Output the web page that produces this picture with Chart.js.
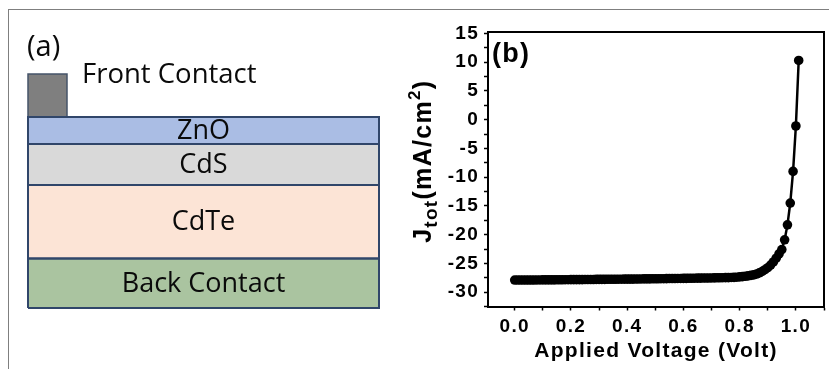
<!DOCTYPE html>
<html>
<head>
<meta charset="utf-8">
<script src="https://cdn.jsdelivr.net/npm/chart.js@4.4.1/dist/chart.umd.min.js"></script>
<style>
  html, body { margin: 0; padding: 0; background: #fff; }
  #wrap { position: relative; width: 829px; height: 369px; overflow: hidden; }
  #frame { position: absolute; left: 8px; top: 9px; width: 900px; height: 400px;
           border-left: 1.5px solid #7f7f7f; border-top: 1.5px solid #7f7f7f; }
  .pane { position: absolute; top: 0; }
</style>
</head>
<body>
<div id="wrap">
  <div id="frame"></div>
  <div class="pane" style="left:0;width:410px;height:369px"><canvas id="stack" width="410" height="369"></canvas></div>
  <div class="pane" style="left:400px;width:429px;height:369px"><canvas id="jv" width="429" height="369"></canvas></div>
</div>
<script>
// ---------- (a) device stack: layer names and thickness bounds (drawing units) ----------
const layerNames   = ['Back Contact', 'CdTe', 'CdS', 'ZnO'];
const layerBottom  = [0, 49.5, 123, 164];
const layerTop     = [49.5, 123, 164, 191];
const stackWidth   = 351;
const contactLabel = 'Front Contact';
const contactSpan  = [0, 39];      // x extent of the front contact
const contactRange = [191, 234];   // y extent of the front contact

// ---------- (b) J-V curve ----------
const voltage = [
  0.00, 0.01, 0.02, 0.03, 0.04, 0.05, 0.06, 0.07, 0.08, 0.09,
  0.10, 0.11, 0.12, 0.13, 0.14, 0.15, 0.16, 0.17, 0.18, 0.19,
  0.20, 0.21, 0.22, 0.23, 0.24, 0.25, 0.26, 0.27, 0.28, 0.29,
  0.30, 0.31, 0.32, 0.33, 0.34, 0.35, 0.36, 0.37, 0.38, 0.39,
  0.40, 0.41, 0.42, 0.43, 0.44, 0.45, 0.46, 0.47, 0.48, 0.49,
  0.50, 0.51, 0.52, 0.53, 0.54, 0.55, 0.56, 0.57, 0.58, 0.59,
  0.60, 0.61, 0.62, 0.63, 0.64, 0.65, 0.66, 0.67, 0.68, 0.69,
  0.70, 0.71, 0.72, 0.73, 0.74, 0.75, 0.76, 0.77, 0.78, 0.79,
  0.80, 0.81, 0.82, 0.83, 0.84, 0.85, 0.86, 0.87, 0.88, 0.89,
  0.90, 0.91, 0.92, 0.93, 0.94, 0.95, 0.96, 0.97, 0.98, 0.99,
  1.00, 1.01
];
const currentDensity = [
  -27.90, -27.90, -27.90, -27.90, -27.90, -27.89, -27.89, -27.89, -27.88, -27.88,
  -27.87, -27.87, -27.86, -27.86, -27.86, -27.85, -27.85, -27.85, -27.84, -27.84,
  -27.83, -27.83, -27.82, -27.82, -27.82, -27.81, -27.81, -27.80, -27.80, -27.79,
  -27.79, -27.78, -27.78, -27.77, -27.77, -27.76, -27.76, -27.75, -27.75, -27.74,
  -27.74, -27.73, -27.73, -27.72, -27.72, -27.71, -27.70, -27.70, -27.69, -27.68,
  -27.68, -27.67, -27.66, -27.66, -27.65, -27.64, -27.64, -27.63, -27.62, -27.62,
  -27.61, -27.60, -27.59, -27.59, -27.58, -27.57, -27.56, -27.55, -27.55, -27.54,
  -27.53, -27.52, -27.51, -27.50, -27.49, -27.48, -27.47, -27.45, -27.43, -27.40,
  -27.35, -27.30, -27.24, -27.17, -27.09, -27.00, -26.85, -26.65, -26.40, -26.10,
  -25.75, -25.30, -24.75, -24.10, -23.35, -22.60, -20.90, -18.30, -14.50, -9.00,
  -1.10, 10.30
];
const xTitle = 'Applied Voltage (Volt)';
const yTitleParts = [
  { text: 'J', kind: 'main' },
  { text: 'tot', kind: 'sub' },
  { text: '(mA/cm', kind: 'main' },
  { text: '2', kind: 'sup' },
  { text: ')', kind: 'main' }
];

const SANS = "'Liberation Sans', Arial, sans-serif";
const BODY = "'Open Sans', 'Noto Sans', sans-serif";

// ================= panel (a) =================
const layerFill = ['#aac4a0', '#fce4d6', '#d9d9d9', '#aabde4'];
const edgeColor = '#30466a';

function rectPath(x0, x1, y0, y1) {
  return [{x: x0, y: y0}, {x: x1, y: y0}, {x: x1, y: y1}, {x: x0, y: y1}, {x: x0, y: y0}];
}

const stackSets = [];
layerNames.forEach((name, i) => {
  stackSets.push({
    label: name,
    data: [{x: 0, y: layerTop[i]}, {x: stackWidth, y: layerTop[i]}],
    fill: {value: layerBottom[i]},
    backgroundColor: layerFill[i],
    borderWidth: 0, pointRadius: 0, order: 2, clip: false
  });
  stackSets.push({
    label: name + ' edge',
    data: rectPath(0, stackWidth, layerBottom[i], layerTop[i]),
    fill: false, borderColor: edgeColor, borderWidth: 2,
    pointRadius: 0, order: 0, clip: false
  });
});
stackSets.push({
  label: contactLabel,
  data: [{x: contactSpan[0], y: contactRange[1]}, {x: contactSpan[1], y: contactRange[1]}],
  fill: {value: contactRange[0]},
  backgroundColor: '#7f7f7f', borderWidth: 0, pointRadius: 0, order: 2, clip: false
});
stackSets.push({
  label: contactLabel + ' edge',
  data: rectPath(contactSpan[0], contactSpan[1], contactRange[0], contactRange[1]),
  fill: false, borderColor: '#45546a', borderWidth: 1.5, pointRadius: 0, order: 1, clip: false
});

const stackLabels = {
  id: 'stackLabels',
  afterDatasetsDraw(chart) {
    const {ctx, scales: {x, y}} = chart;
    ctx.save();
    ctx.fillStyle = '#0a0a0a';
    ctx.textAlign = 'center';
    ctx.textBaseline = 'middle';
    ctx.font = '500 27px ' + BODY;
    layerNames.forEach((name, i) => {
      ctx.fillText(name, x.getPixelForValue(stackWidth / 2),
                   y.getPixelForValue((layerBottom[i] + layerTop[i]) / 2) + 1);
    });
    ctx.textAlign = 'left';
    ctx.font = '500 27.5px ' + BODY;
    ctx.fillText(contactLabel, x.getPixelForValue(contactSpan[1] + 15), y.getPixelForValue(contactRange[1]) + 1);
    ctx.font = '500 29px ' + BODY;
    ctx.fillText('(a)', x.getPixelForValue(-1), y.getPixelForValue(contactRange[1] + 26));
    ctx.restore();
  }
};

new Chart(document.getElementById('stack'), {
  type: 'line',
  data: { datasets: stackSets },
  options: {
    responsive: false, animation: false,
    layout: { padding: { left: 28, right: 31, top: 74, bottom: 61 } },
    plugins: { legend: { display: false }, tooltip: { enabled: false } },
    scales: {
      x: { type: 'linear', display: false, min: 0, max: stackWidth },
      y: { type: 'linear', display: false, min: 0, max: contactRange[1] }
    }
  },
  plugins: [stackLabels]
});

// ================= panel (b) =================
const jvPoints = voltage.map((v, i) => ({x: v, y: currentDensity[i]}));

// wider letter spacing for the bold axis lettering
const wideText = {
  id: 'wideText',
  beforeUpdate(chart) { chart.ctx.letterSpacing = '1.3px'; },
  beforeDraw(chart) { chart.ctx.letterSpacing = '1.3px'; }
};

const jvDecor = {
  id: 'jvDecor',
  afterDraw(chart) {
    const {ctx, chartArea: a} = chart;
    ctx.save();
    // closing top and right sides of the plot frame
    ctx.strokeStyle = '#000';
    ctx.lineWidth = 2;
    ctx.beginPath();
    ctx.moveTo(a.left - 1, a.top);
    ctx.lineTo(a.right, a.top);
    ctx.lineTo(a.right, a.bottom + 1);
    ctx.stroke();

    // panel tag
    ctx.fillStyle = '#000';
    ctx.font = 'bold 27px ' + SANS;
    ctx.textAlign = 'left';
    ctx.textBaseline = 'middle';
    ctx.fillText('(b)', a.left + 4, a.top + 23);

    // rotated y title with subscript and superscript
    const sizes = { main: 25, sub: 19, sup: 17 };
    const shift = { main: 0, sub: 6, sup: -11 };
    let total = 0;
    yTitleParts.forEach(p => {
      ctx.font = 'bold ' + sizes[p.kind] + 'px ' + SANS;
      total += ctx.measureText(p.text).width;
    });
    ctx.translate(22, (a.top + a.bottom) / 2 - 8);
    ctx.rotate(-Math.PI / 2);
    ctx.textBaseline = 'alphabetic';
    let cx = -total / 2;
    yTitleParts.forEach(p => {
      ctx.font = 'bold ' + sizes[p.kind] + 'px ' + SANS;
      ctx.fillText(p.text, cx, 9 + shift[p.kind]);
      cx += ctx.measureText(p.text).width;
    });
    ctx.restore();
  }
};

new Chart(document.getElementById('jv'), {
  type: 'line',
  data: {
    datasets: [{
      label: 'J-V',
      data: jvPoints,
      borderColor: '#000', borderWidth: 2.5,
      pointRadius: 4.8, pointBackgroundColor: '#000', pointBorderWidth: 0,
      pointStyle: 'circle', fill: false, tension: 0
    }]
  },
  options: {
    responsive: false, animation: false,
    layout: { padding: { left: 0, right: 2.3, top: 32, bottom: 0 } },
    plugins: { legend: { display: false }, tooltip: { enabled: false } },
    scales: {
      x: {
        type: 'linear', min: -0.095, max: 1.1,
        afterFit(s) { s.height = 62.5; },
        border: { display: true, color: '#000', width: 2 },
        grid: { drawOnChartArea: false, drawTicks: true, tickLength: 4, tickColor: '#000', tickWidth: 1.5 },
        ticks: {
          stepSize: 0.1, includeBounds: false, padding: 5, color: '#000', maxRotation: 0, autoSkip: false,
          font: { family: SANS, size: 19, weight: 'bold' },
          callback: v => (Math.round(v * 10) % 2 === 0 ? v.toFixed(1) : '')
        },
        title: {
          display: true, text: xTitle, color: '#000',
          font: { family: SANS, size: 21, weight: 'bold' },
          padding: { top: 0, bottom: 5 }
        }
      },
      y: {
        type: 'linear', min: -32.5, max: 15.25,
        afterFit(s) { s.width = 88; },
        border: { display: true, color: '#000', width: 2 },
        grid: { drawOnChartArea: false, drawTicks: true, tickLength: 4, tickColor: '#000', tickWidth: 1.5 },
        ticks: {
          stepSize: 2.5, includeBounds: false, padding: 5, color: '#000', autoSkip: false,
          font: { family: SANS, size: 19, weight: 'bold' },
          callback: v => (Math.abs(v % 5) < 1e-6 ? String(v) : '')
        }
      }
    }
  },
  plugins: [wideText, jvDecor]
});
</script>
</body>
</html>
